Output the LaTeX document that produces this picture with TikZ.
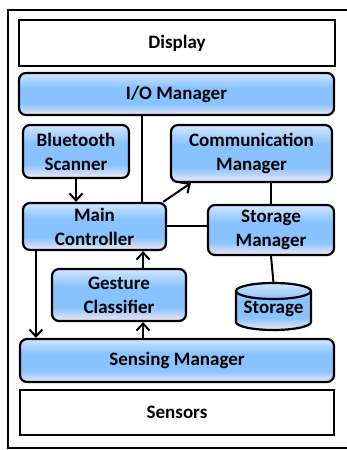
\documentclass[tikz,border=0pt]{standalone}
\usepackage{fontspec}
\setmainfont{Carlito}
\usetikzlibrary{arrows.meta}
\definecolor{topblue}{HTML}{D2E5FF}
\definecolor{midblue}{HTML}{88C3FF}
\definecolor{lowlav}{HTML}{F3E7F3}
\pgfdeclareverticalshading{boxshade}{100bp}{color(0bp)=(lowlav); color(25bp)=(lowlav); color(38bp)=(midblue); color(58bp)=(midblue); color(75bp)=(topblue); color(100bp)=(topblue)}
\tikzset{
  every node/.style={font=\fontsize{19}{24}\selectfont\bfseries, align=center, inner sep=0pt},
  plainbox/.style={draw, line width=2.2pt, fill=white, rectangle},
  bluebox/.style={draw, line width=2.2pt, rectangle, rounded corners=7pt, shading=boxshade},
  link/.style={line width=2pt},
  arr/.style={line width=2pt, -{Straight Barb[length=7pt,width=13pt,line width=2pt]}},
}
\begin{document}
\begin{tikzpicture}[x=1pt,y=1pt]
\useasboundingbox (0,0) rectangle (347,450);
\fill[white] (0,0) rectangle (347,450);
\draw[line width=2.5pt] (348,440) -- (8,440) -- (8,2) -- (348,2);

\node[plainbox, minimum width=316pt, minimum height=46pt] (display) at (177,407) {Display};
\node[bluebox, minimum width=315pt, minimum height=42pt] (io) at (176.5,356) {I/O Manager};
\node[bluebox, minimum width=106pt, minimum height=53pt] (bt) at (76,298.5) {Bluetooth\\Scanner};
\node[bluebox, minimum width=161pt, minimum height=57pt] (comm) at (251.5,296.5) {Communication\\Manager};
\node[bluebox, minimum width=143pt, minimum height=47pt] (main) at (94.5,223.5) {Main\\Controller};
\node[bluebox, minimum width=126pt, minimum height=50pt] (stormgr) at (271,220) {Storage\\Manager};
\node[bluebox, minimum width=134pt, minimum height=52pt] (gesture) at (119,155) {Gesture\\Classifier};
\node[bluebox, minimum width=314pt, minimum height=43pt] (sensing) at (177,89.5) {Sensing Manager};
\node[plainbox, minimum width=314pt, minimum height=45pt] (sensors) at (177,37.5) {Sensors};

% storage cylinder
\shade[shading=boxshade, draw, line width=2.2pt]
  (236,159) -- (236,128) arc (180:360:37.5 and 8) -- (311,159) arc (0:180:37.5 and 8) -- cycle;
\draw[line width=2.2pt] (236,159) arc (180:360:37.5 and 8);
\coordinate (stortop) at (273.5,167);
\node (storage) at (273.5,141) {Storage};

% connectors
\draw[link] ([xshift=47.5pt]main.north |- io.south) -- ([xshift=47.5pt]main.north);
\draw[arr] (bt.south) -- (bt.south |- main.north);
\draw[arr] ([xshift=-4pt]main.north east) -- ([xshift=21pt]comm.south west);
\draw[link] (main.east) -- (stormgr.west |- main.east);
\draw[link] (stormgr.north |- comm.south) -- (stormgr.north);
\draw[link] (stormgr.south) -- (stortop);
\draw[arr] ([xshift=14pt]main.south west) -- ([xshift=14pt]main.south west |- sensing.north);
\draw[arr] ([xshift=24pt]gesture.north) -- ([xshift=24pt]gesture.north |- main.south);
\draw[arr] ([xshift=24pt]gesture.south |- sensing.north) -- ([xshift=24pt]gesture.south);
\end{tikzpicture}
\end{document}
